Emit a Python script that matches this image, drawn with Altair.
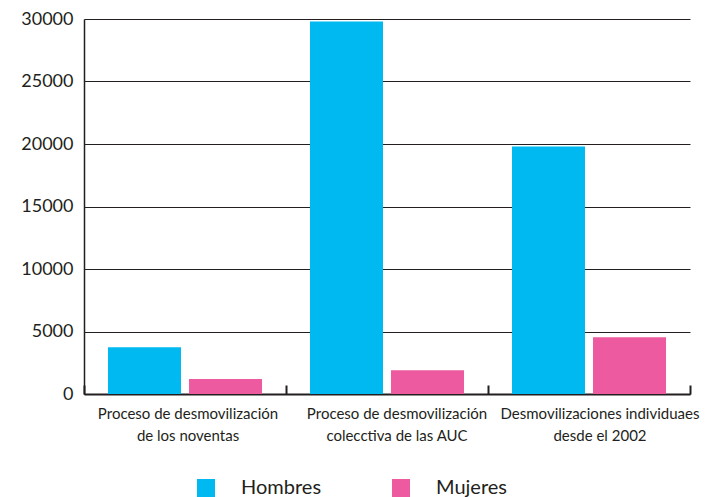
import altair as alt
import pandas as pd

categorias = [
    "Proceso de desmovilización|de los noventas",
    "Proceso de desmovilización|colecctiva de las AUC",
    "Desmovilizaciones individuaes|desde el 2002",
]
series = ["Hombres", "Mujeres"]
hombres = [3750, 29800, 19800]
mujeres = [1200, 1900, 4550]
colores = ["#00b9f0", "#ee5a9f"]
y_ticks = [0, 5000, 10000, 15000, 20000, 25000, 30000]

rows = []
for c, h, m in zip(categorias, hombres, mujeres):
    rows.append({"categoria": c, "serie": "Hombres", "valor": h})
    rows.append({"categoria": c, "serie": "Mujeres", "valor": m})
df = pd.DataFrame(rows)

FONT = "Lato"
INK = "#231f20"
W, H = 606, 375

x_scale = alt.Scale(domain=categorias, paddingInner=0, paddingOuter=0)
xo_scale = alt.Scale(domain=series, paddingInner=0.099, paddingOuter=0.296)
y_scale = alt.Scale(domain=[0, 30000], nice=False)
y_axis = alt.Axis(
    title=None,
    values=y_ticks,
    format="d",
    labelFont=FONT,
    labelFontSize=18,
    labelColor=INK,
    labelPadding=11,
    ticks=False,
    domain=True,
    domainColor=INK,
    domainWidth=1.5,
    grid=True,
    gridColor=INK,
    gridWidth=1,
)

bars = alt.Chart(df).mark_bar().encode(
    x=alt.X(
        "categoria:N",
        scale=x_scale,
        sort=categorias,
        axis=alt.Axis(
            title=None,
            labelAngle=0,
            labelExpr="split(datum.label, '|')",
            labelFont=FONT,
            labelFontSize=15,
            labelColor=INK,
            labelLineHeight=22,
            labelPadding=12,
            labelLimit=400,
            labelOffset={"expr": "datum.value == '" + categorias[0] + "' ? 3 : datum.value == '" + categorias[1] + "' ? 10 : 11"},
            ticks=False,
            domain=True,
            domainColor=INK,
            domainWidth=2,
            grid=False,
        ),
    ),
    xOffset=alt.XOffset("serie:N", scale=xo_scale, sort=series),
    y=alt.Y("valor:Q", scale=y_scale, axis=y_axis),
    color=alt.Color(
        "serie:N",
        scale=alt.Scale(domain=series, range=colores),
        legend=alt.Legend(
            title=None,
            orient="none",
            legendX=112,
            legendY=459,
            direction="horizontal",
            symbolType="square",
            symbolSize=324,
            symbolStrokeWidth=0,
            symbolOpacity=1,
            labelFont=FONT,
            labelFontSize=20,
            labelColor=INK,
            labelOffset=25,
            columnPadding=69,
        ),
    ),
)

ticks_layer = alt.Chart(df).mark_bar(opacity=0).encode(
    x=alt.X(
        "categoria:N",
        scale=x_scale,
        sort=categorias,
        axis=alt.Axis(
            title=None,
            orient="top",
            offset=-H,
            labels=False,
            domain=False,
            grid=False,
            ticks=True,
            tickBand="extent",
            tickSize=9,
            tickWidth=2,
            tickColor=INK,
        ),
    ),
    y=alt.Y("valor:Q", scale=y_scale, axis=y_axis),
)

chart = (
    alt.layer(bars, ticks_layer)
    .resolve_axis(x="independent", y="shared")
    .properties(
        width=W,
        height=H,
        autosize=alt.AutoSizeParams(type="none"),
        padding={"left": 76, "top": 11, "right": 14, "bottom": 104},
    )
    .configure_view(stroke=None)
)

chart.save("out.html", embed_options={"renderer": "svg", "actions": False})
